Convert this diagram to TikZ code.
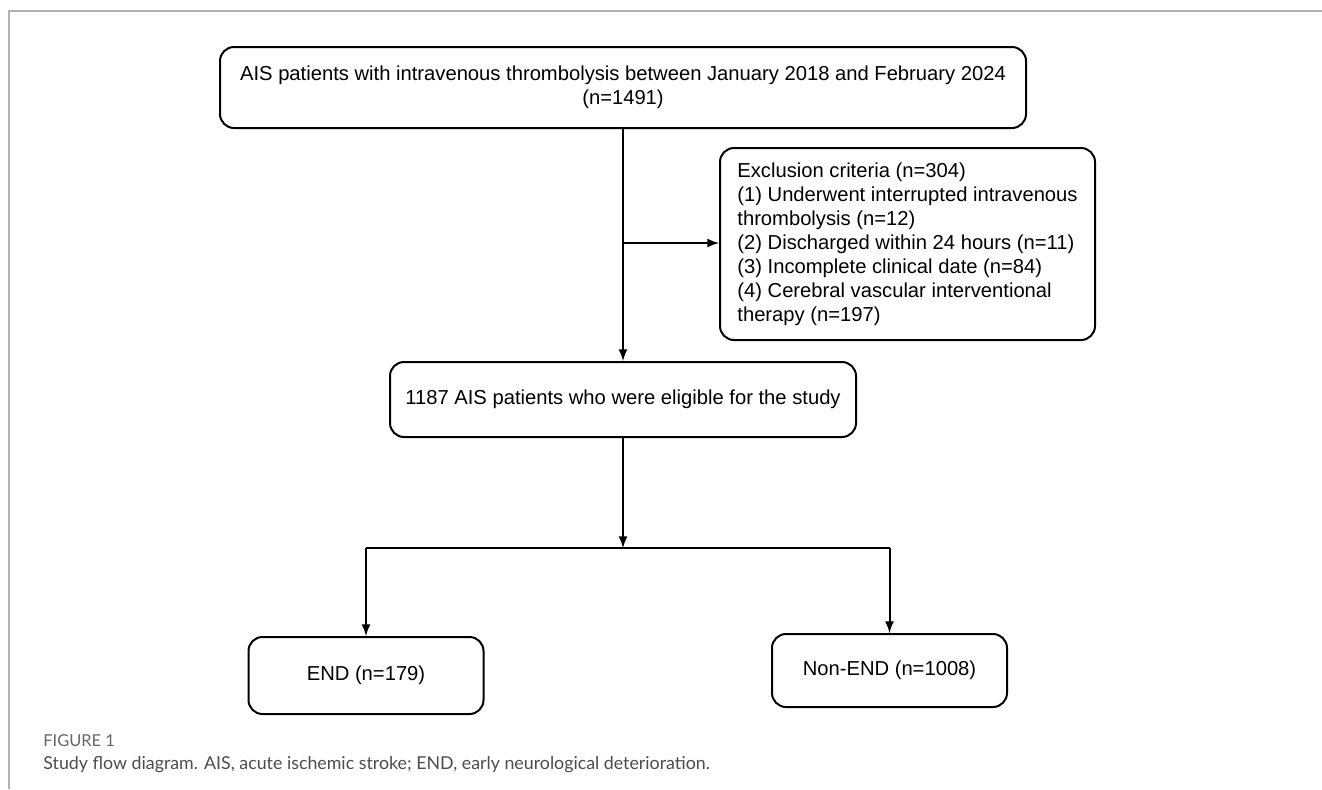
\documentclass[tikz,border=0pt]{standalone}
\usepackage{fontspec}
\setmainfont{Liberation Sans}
\newfontfamily\capfont{Lato}
\begin{document}
\begin{tikzpicture}[x=0.5pt,y=-0.5pt,
    box/.style={draw,line width=1pt,rounded corners=7pt,inner sep=0pt,
      font=\fontsize{10.1}{12}\selectfont},
    link/.style={line width=1pt,-latex}]
  \useasboundingbox (0,0) rectangle (1322,789);
  \draw[black!30,line width=0.75pt] (1322,11) -- (9,11) -- (9,789);

  \node[box,minimum width=403pt,minimum height=40.5pt,align=center] (all) at (623,87.5)
    {AIS patients with intravenous thrombolysis between January 2018 and February 2024\\(n=1491)};
  \node[box,minimum width=187.5pt,minimum height=96pt,align=left] (excl) at (907.5,244)
    {Exclusion criteria (n=304)\\
     (1) Underwent interrupted intravenous\\
     thrombolysis (n=12)\\
     (2) Discharged within 24 hours (n=11)\\
     (3) Incomplete clinical date (n=84)\\
     (4) Cerebral vascular interventional\\
     therapy (n=197)};
  \node[box,minimum width=233pt,minimum height=37.5pt] (elig) at (623,399.5)
    {1187 AIS patients who were eligible for the study};
  \node[box,minimum width=117.5pt,minimum height=38.5pt] (endg) at (366,675.5) {END (n=179)};
  \node[box,minimum width=117.5pt,minimum height=36.5pt] (nonend) at (889.5,670.5) {Non-END (n=1008)};

  \coordinate (br) at (623,243);
  \coordinate (split) at (623,548);
  \draw[link] (all.south) -- (elig.north);
  \draw[link] (br) -- (br -| excl.west);
  \draw[link] (elig.south) -- (split);
  \draw[line width=1pt] (split -| endg.north) -- (split -| nonend.north);
  \draw[link] (split -| endg.north) -- (endg.north);
  \draw[link] (split -| nonend.north) -- (nonend.north);

  \node[anchor=west,inner sep=0pt,text=black!60,font=\capfont\fontsize{8.2}{9}\selectfont] (fig) at (43,741) {FIGURE 1};
  \node[anchor=west,inner sep=0pt,text=black!70,font=\capfont\fontsize{8.9}{10}\selectfont] (cap) at (43,765)
    {Study flow diagram. AIS, acute ischemic stroke; END, early neurological deterioration.};
\end{tikzpicture}
\end{document}
